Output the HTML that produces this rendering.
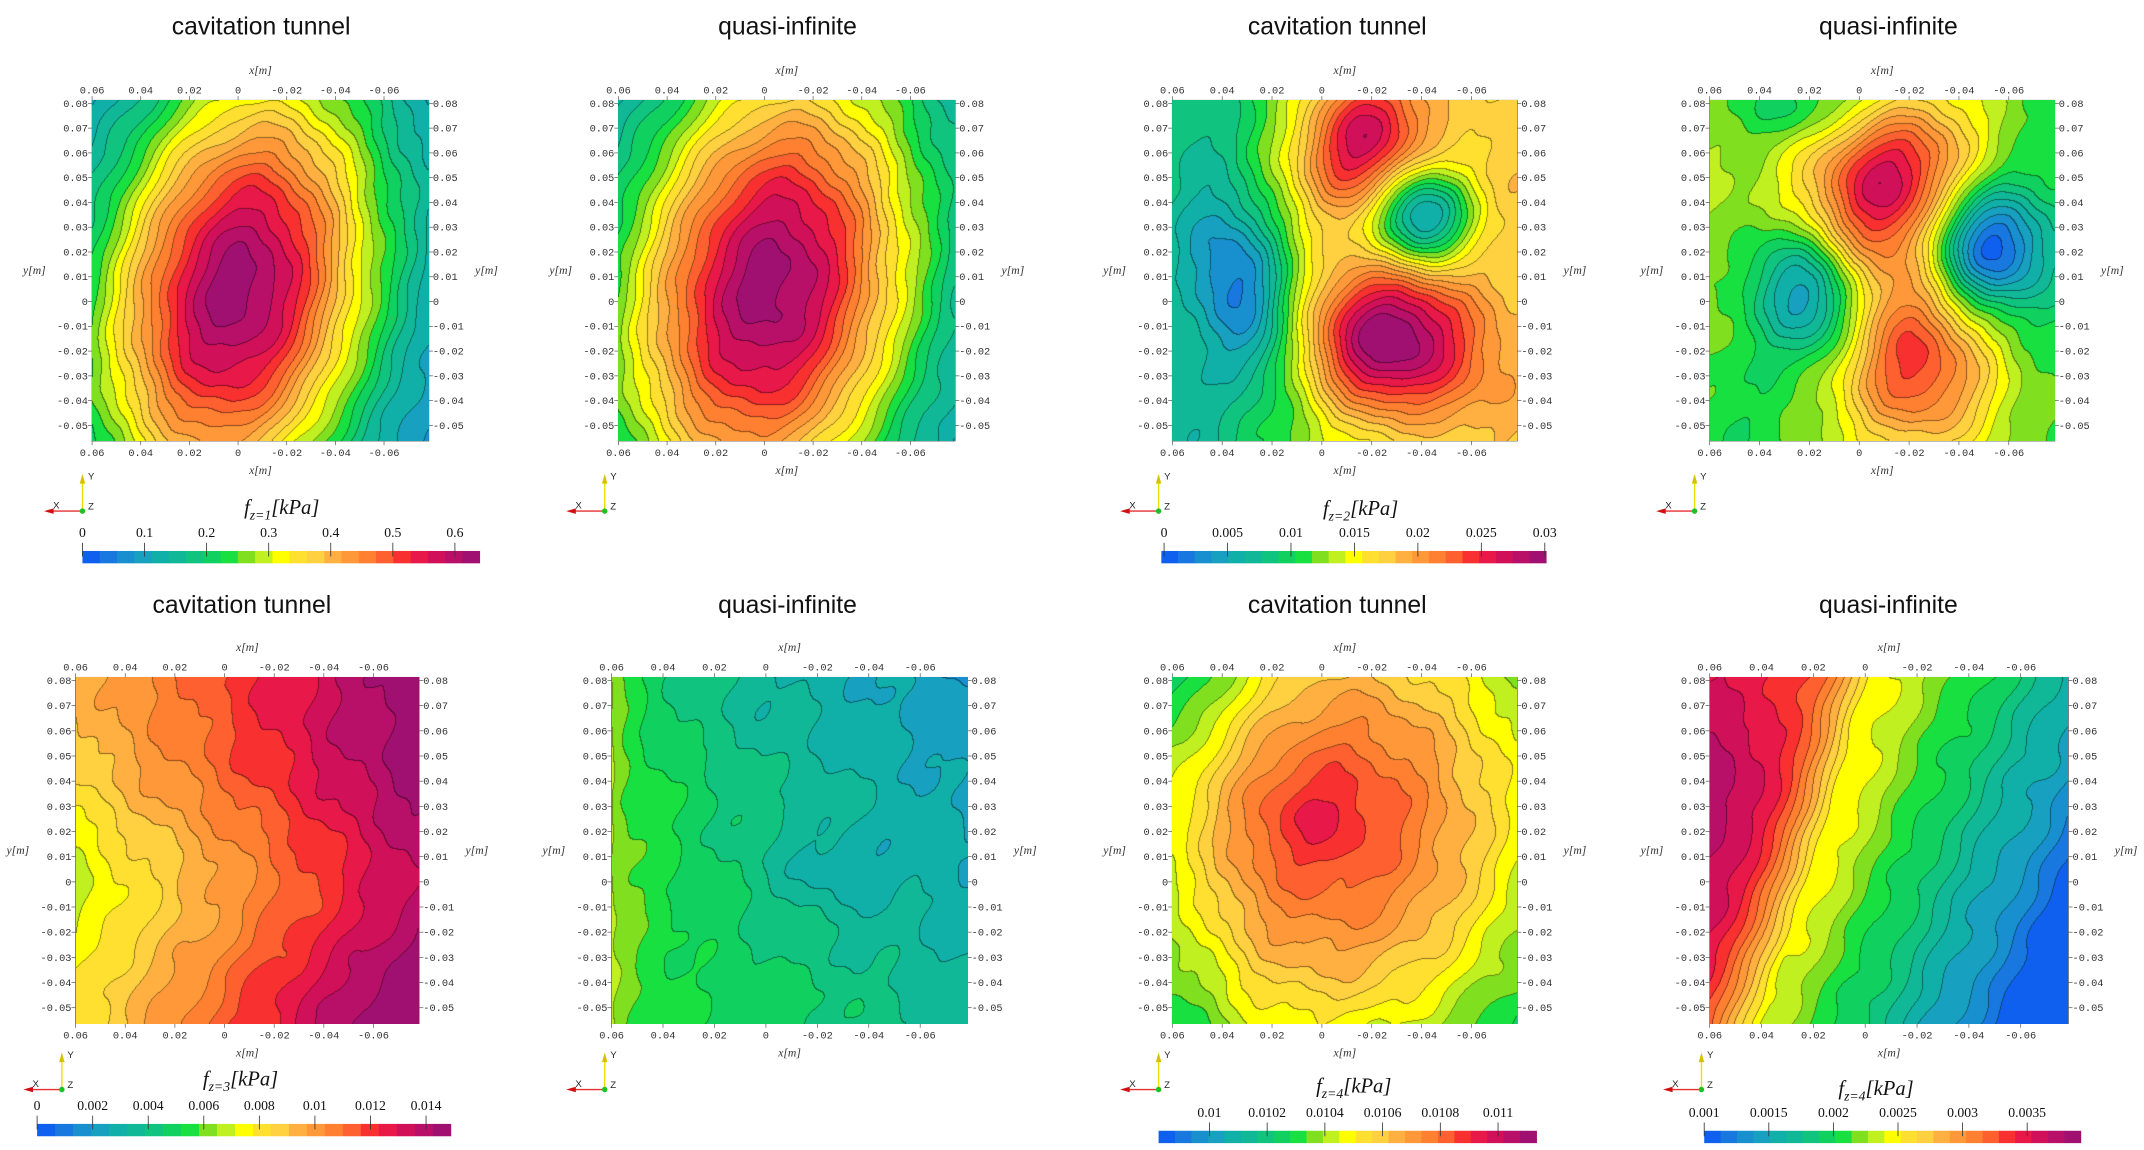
<!DOCTYPE html>
<html><head><meta charset="utf-8"><style>
html,body{margin:0;padding:0;background:#fff;}
#w{position:relative;width:2144px;height:1150px;overflow:hidden;background:#fff;}
canvas{position:absolute;}
svg{position:absolute;left:0;top:0;}
</style></head><body><div id="w">
<svg id="s" width="2144" height="1150" viewBox="0 0 1560 837" preserveAspectRatio="none"></svg>
</div>
<script>
var PAL=["#1060f0","#1878e0","#1890d0","#18a0c0","#10b0a8","#10b898","#10c480","#10d060","#18e040","#80e020","#c0f020","#ffff00","#ffe030","#ffd040","#ffb040","#ff9838","#ff8030","#ff6030","#f83030","#e81848","#d01058","#b81068","#a01070"];
var RGB=PAL.map(function(h){return [parseInt(h.substr(1,2),16),parseInt(h.substr(3,2),16),parseInt(h.substr(5,2),16)];});
var SX=2144/1560, SY=1150/837;
function g(u,v,cu,cv,su,sv,rot){var du=u-cu,dv=v-cv;if(rot){var c=Math.cos(rot),s=Math.sin(rot);var a=du*c-dv*s,b=du*s+dv*c;du=a;dv=b;}return Math.exp(-0.5*((du/su)*(du/su)+(dv/sv)*(dv/sv)));}
function nz(u,v){return 0.012*Math.sin(u*25+v*9)+0.008*Math.sin(v*31-u*13)+0.004*Math.sin(u*60+v*45);}
var F=[
function(u,v){return 0.06+0.92*g(u,v,0.43,0.56,0.29,0.48,-0.22);},
function(u,v){return 0.08+0.9*g(u,v,0.45,0.55,0.31,0.5,-0.2);},
function(u,v){return 0.4+0.46*g(u,v,0.55,0.12,0.13,0.17,-0.4)+0.55*g(u,v,0.62,0.7,0.18,0.16,0)-0.3*g(u,v,0.2,0.55,0.11,0.22,0.3)-0.42*g(u,v,0.72,0.34,0.1,0.1,0.5)+0.22*(u-0.35)-0.1*g(u,v,0.05,0.95,0.12,0.2,0)-0.06*g(u,v,0.1,0.05,0.15,0.1,0)+0.06*g(u,v,0.95,0.2,0.12,0.2,0)+0.06*g(u,v,0.95,0.9,0.15,0.15,0);},
function(u,v){return 0.44+0.5*g(u,v,0.52,0.24,0.16,0.2,-0.6)+0.42*g(u,v,0.58,0.76,0.17,0.2,0.4)-0.38*g(u,v,0.3,0.57,0.12,0.15,0.4)-0.42*g(u,v,0.8,0.43,0.12,0.13,0.4)-0.08*u-0.12*g(u,v,0.3,0.02,0.2,0.08,0)-0.08*g(u,v,0.05,0.95,0.2,0.2,0);},
function(u,v){return 0.55+0.45*u-0.12*g(u,v,0.5,0.6,2,0.2,0)+0.07*(1-v)*(1-u)+0.08*v*u;},
function(u,v){return 0.45-0.22*Math.sqrt(u)-0.06*g(u,v,0.62,0.55,0.13,0.08,0)-0.1*(1-v)*u+0.03*g(u,v,0.6,0.95,0.2,0.1,0)-0.04*g(u,v,0.3,0.05,0.3,0.15,0);},
function(u,v){return 0.16+0.62*g(u,v,0.47,0.42,0.48,0.54,-0.2)+0.06*g(u,v,0.4,0.4,0.12,0.1,0)-0.12*g(u,v,0,0,0.2,0.2,0)-0.06*g(u,v,0.05,0.7,0.1,0.3,0);},
function(u,v){var w=u+0.3*v;var f=w<0.45?0.5+0.5*Math.tanh((0.45-w)*4.5):0.5-0.7*(w-0.45);return f+0.1*(1-v)*u-0.12*g(u,v,0.0,0.0,0.3,0.15,0)-0.05*g(u,v,0,1,0.2,0.2,0);}
];
var P=[[67,73,312,321],[450,73,695,321],[853,73,1104,321],[1244,73,1495,321],[55,493,305,745],[445,493,704,745],[853,493,1104,745],[1244,493,1505,745]];
var W=document.getElementById('w');
P.forEach(function(p,i){
 var L=Math.round(p[0]*SX),T=Math.round(p[1]*SY),R=Math.round(p[2]*SX),B=Math.round(p[3]*SY);
 var w=R-L,h=B-T;var c=document.createElement('canvas');c.width=w;c.height=h;c.style.left=L+'px';c.style.top=T+'px';W.appendChild(c);
 var ctx=c.getContext('2d');var im=ctx.createImageData(w,h);var N=PAL.length;
 var lv=new Int16Array(w*h);
 for(var y=0;y<h;y++)for(var x=0;x<w;x++){var u=x/w,v=y/h;var f=F[i](u,v)+nz(u,v);f=Math.max(0,Math.min(0.999,f));lv[y*w+x]=Math.floor(f*N);}
 for(var y=0;y<h;y++)for(var x=0;x<w;x++){var k=y*w+x,l=lv[k];var col=RGB[l];var e=(x<w-1&&lv[k+1]!=l)||(y<h-1&&lv[k+w]!=l);var d=e?0.55:1;
  im.data[k*4]=col[0]*d;im.data[k*4+1]=col[1]*d;im.data[k*4+2]=col[2]*d;im.data[k*4+3]=255;}
 ctx.putImageData(im,0,0);
});
var S='';
function t(x,y,s,o){o=o||{};S+='<text x="'+x+'" y="'+y+'" font-family="'+(o.f||'Liberation Mono, monospace')+'" font-size="'+(o.sz||7.5)+'" text-anchor="'+(o.a||'middle')+'" fill="'+(o.c||'#333')+'"'+(o.st?' font-style="'+o.st+'"':'')+'>'+s+'</text>';}
var xl=['0.06','0.04','0.02','0','-0.02','-0.04','-0.06'],yl=['0.08','0.07','0.06','0.05','0.04','0.03','0.02','0.01','0','-0.01','-0.02','-0.03','-0.04','-0.05'];
P.forEach(function(p){var x0=p[0],y0=p[1],x1=p[2],y1=p[3],W=x1-x0,H=y1-y0;
 S+='<rect x="'+x0+'" y="'+y0+'" width="'+W+'" height="'+H+'" fill="none" stroke="#666" stroke-width="0.6"/>';
 xl.forEach(function(s,j){var x=x0+j*0.1445*W;S+='<line x1="'+x+'" y1="'+(y0-3)+'" x2="'+x+'" y2="'+y0+'" stroke="#555" stroke-width="0.5"/><line x1="'+x+'" y1="'+y1+'" x2="'+x+'" y2="'+(y1+3)+'" stroke="#555" stroke-width="0.5"/>';t(x,y0-5,s);t(x,y1+11,s);});
 yl.forEach(function(s,j){var y=y0+(0.009+j*0.0727)*H;S+='<line x1="'+(x0-3)+'" y1="'+y+'" x2="'+x0+'" y2="'+y+'" stroke="#555" stroke-width="0.5"/><line x1="'+x1+'" y1="'+y+'" x2="'+(x1+3)+'" y2="'+y+'" stroke="#555" stroke-width="0.5"/>';t(x0-3,y+2.5,s,{a:'end'});t(x1+3,y+2.5,s,{a:'start'});});
 t(x0+0.5*W,y0-19,'x[m]',{f:'Liberation Serif, serif',st:'italic',sz:8.5});t(x0+0.5*W,y1+24,'x[m]',{f:'Liberation Serif, serif',st:'italic',sz:8.5});
 t(x0-42,y0+0.51*H,'y[m]',{f:'Liberation Serif, serif',st:'italic',sz:8.5});t(x1+42,y0+0.51*H,'y[m]',{f:'Liberation Serif, serif',st:'italic',sz:8.5});
});
[[190,573,973,1374,25],[176,573,973,1374,446]].forEach(function(r){for(var k=0;k<4;k++){t(r[k],r[4],k%2?'quasi-infinite':'cavitation tunnel',{f:'Liberation Sans, sans-serif',sz:18,c:'#111'});}});
function triad(x,y){S+='<line x1="'+x+'" y1="'+y+'" x2="'+x+'" y2="'+(y-24)+'" stroke="#e8e000" stroke-width="1"/><path d="M'+(x-2)+' '+(y-20)+'L'+x+' '+(y-27)+'L'+(x+2)+' '+(y-20)+'Z" fill="#d8c000"/><line x1="'+x+'" y1="'+y+'" x2="'+(x-24)+'" y2="'+y+'" stroke="#e83030" stroke-width="1"/><path d="M'+(x-21)+' '+(y-2)+'L'+(x-28)+' '+y+'L'+(x-21)+' '+(y+2)+'Z" fill="#d01010"/><circle cx="'+x+'" cy="'+y+'" r="2" fill="#20c020"/>';t(x+4,y-23,'Y',{f:'Liberation Sans, sans-serif',sz:7,c:'#222',a:'start'});t(x-19,y-2,'X',{f:'Liberation Sans, sans-serif',sz:7,c:'#222'});t(x+4,y-1,'Z',{f:'Liberation Sans, sans-serif',sz:7,c:'#222',a:'start'});}
triad(60,372);triad(440,372);triad(843,372);triad(1233,372);triad(45,793);triad(440,793);triad(843,793);triad(1238,793);
function cbar(x0,x1,y,labs,pos,title,tx,ty){var n=23,w=(x1-x0)/n;for(var k=0;k<n;k++)S+='<rect x="'+(x0+k*w)+'" y="'+y+'" width="'+(w+0.3)+'" height="9" fill="'+PAL[k]+'"/>';
 labs.forEach(function(s,j){var x=pos[j];S+='<line x1="'+x+'" y1="'+(y-6)+'" x2="'+x+'" y2="'+(y+4)+'" stroke="#333" stroke-width="0.6"/>';t(x,y-10,s,{f:'Liberation Serif, serif',sz:10,c:'#111'});});
 S+='<text x="'+tx+'" y="'+ty+'" font-family="Liberation Serif, serif" font-size="15" text-anchor="middle" font-style="italic" fill="#111">f<tspan font-size="10" dy="4">z='+title+'</tspan><tspan dy="-4">[kPa]</tspan></text>';}
function lin(a,b,n){var r=[];for(var i=0;i<n;i++)r.push(a+(b-a)*i/(n-1));return r;}
cbar(60,349,401,['0','0.1','0.2','0.3','0.4','0.5','0.6'],lin(60,331,7),'1',205,374);
cbar(845,1125,401,['0','0.005','0.01','0.015','0.02','0.025','0.03'],lin(847,1124,7),'2',990,375);
cbar(27,328,818,['0','0.002','0.004','0.006','0.008','0.01','0.012','0.014'],lin(27,310,8),'3',175,790);
cbar(843,1118,823,['0.01','0.0102','0.0104','0.0106','0.0108','0.011'],lin(880,1090,6),'4',985,795);
cbar(1240,1514,823,['0.001','0.0015','0.002','0.0025','0.003','0.0035'],lin(1240,1475,6),'4',1365,797);
document.getElementById('s').innerHTML=S;
</script></body></html>
